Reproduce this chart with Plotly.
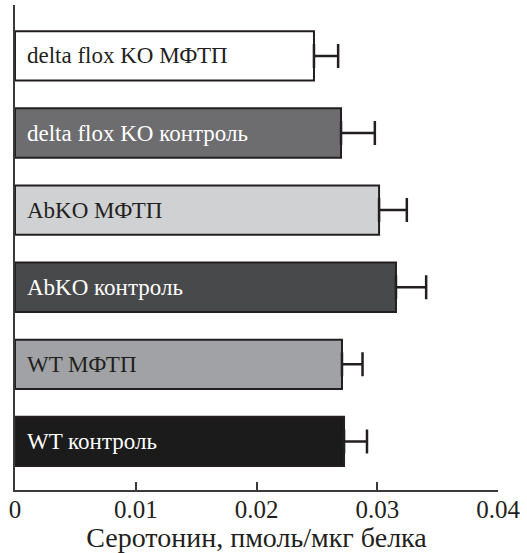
import plotly.graph_objects as go

categories = ["WT контроль", "WT МФТП", "AbKO контроль", "AbKO МФТП",
              "delta flox KO контроль", "delta flox KO МФТП"]
values = [0.02725, 0.02708, 0.03155, 0.03015, 0.0270, 0.02476]
errors = [0.0019, 0.0017, 0.0025, 0.0023, 0.0028, 0.0020]
colors = ["#1c1b1c", "#a1a2a5", "#48494b", "#d0d1d3", "#6d6d6f", "#ffffff"]
label_colors = ["white", "#231f20", "white", "#231f20", "white", "#231f20"]
x_ticks = [0, 0.01, 0.02, 0.03, 0.04]
x_tick_labels = ["0", "0.01", "0.02", "0.03", "0.04"]
x_title = "Серотонин, пмоль/мкг белка"

serif = "Liberation Serif"

fig = go.Figure()
fig.add_trace(go.Bar(
    y=list(range(len(categories))),
    x=values,
    orientation="h",
    marker=dict(color=colors, line=dict(color="#231f20", width=2)),
    error_x=dict(type="data", array=errors, arrayminus=[0] * len(errors),
                 symmetric=False, color="#231f20", thickness=2.5, width=12),
    width=0.64,
    hoverinfo="skip",
))

for i, (cat, lc) in enumerate(zip(categories, label_colors)):
    fig.add_annotation(x=0, y=i, text=cat, showarrow=False, xanchor="left",
                       xshift=10, yanchor="middle",
                       font=dict(family=serif, size=23, color=lc))

fig.update_layout(
    width=527, height=553,
    margin=dict(l=15, r=29, t=5, b=63),
    plot_bgcolor="white", paper_bgcolor="white",
    showlegend=False,
    xaxis=dict(range=[0, 0.04], tickvals=x_ticks, ticktext=x_tick_labels,
               ticks="inside", ticklen=8, tickwidth=1.5, tickcolor="#3a3a3a",
               showline=True, linecolor="#3a3a3a", linewidth=1.5,
               showgrid=False, zeroline=False, automargin=False,
               ticklabelstandoff=-4,
               tickfont=dict(family=serif, size=25, color="#231f20"),
               title=dict(text=x_title, standoff=0,
                          font=dict(family=serif, size=28, color="#231f20"))),
    yaxis=dict(range=[-0.63, 5.66], showticklabels=False, ticks="",
               showline=True, linecolor="#3a3a3a", linewidth=1.5,
               showgrid=False, zeroline=False, automargin=False),
)

fig.write_html("out.html", config={"displayModeBar": False},
               post_script="document.body.style.margin='0';document.body.style.overflow='hidden';")
